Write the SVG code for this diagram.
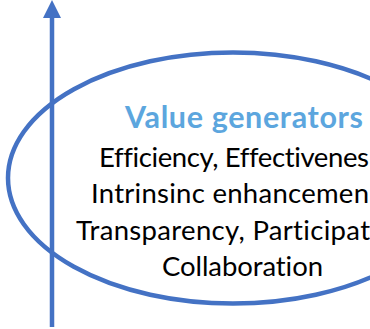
<svg xmlns="http://www.w3.org/2000/svg" width="370" height="329" viewBox="0 0 370 329">
  <style>
    .shape { fill: none; stroke: #4472C4; stroke-width: 4.5; }
    .title { font-family: Lato, "Open Sans", sans-serif; font-weight: bold; font-size: 30.5px; fill: #5CA6DE; font-variant-ligatures: none; }
    .body { font-family: Lato, "Open Sans", sans-serif; font-size: 27.5px; fill: #000000; font-variant-ligatures: none; }
  </style>
  <rect width="370" height="329" fill="#ffffff"/>
  <g id="connectors">
    <line x1="52" y1="327" x2="52" y2="15" stroke="#4472C4" stroke-width="4.5"/>
    <polygon points="52,0 43,18 61,18" fill="#4472C4"/>
  </g>
  <g id="value-generators">
    <ellipse class="shape" cx="233" cy="178" rx="225" ry="125.5"/>
    <text class="title" x="125" y="128" textLength="238" lengthAdjust="spacing">Value generators</text>
    <text class="body" x="99" y="167" textLength="270" lengthAdjust="spacing">Efficiency, Effectivenes</text>
    <text class="body" x="91" y="203" textLength="278" lengthAdjust="spacing">Intrinsinc enhancemen</text>
    <text class="body" x="76" y="240" textLength="294" lengthAdjust="spacing">Transparency, Participat</text>
    <text class="body" x="162" y="276" textLength="161" lengthAdjust="spacing">Collaboration</text>
  </g>
</svg>
